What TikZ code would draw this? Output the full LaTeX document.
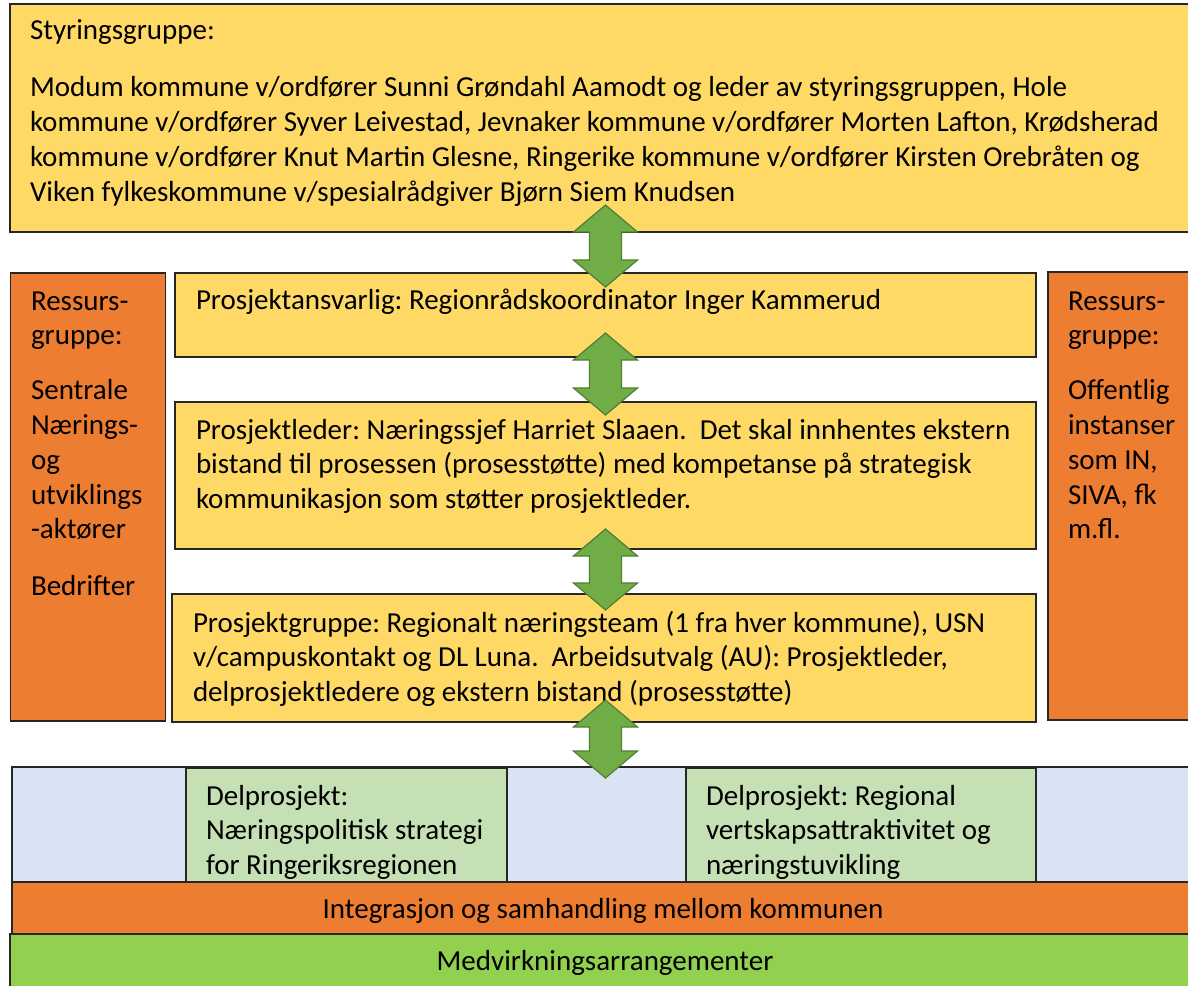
\documentclass[tikz,border=0pt]{standalone}
\usepackage{fontspec}
\setmainfont{Carlito}
\usetikzlibrary{calc}
\definecolor{cyellow}{HTML}{FFD966}
\definecolor{corange}{HTML}{ED7D31}
\definecolor{cblue}{HTML}{DAE3F3}
\definecolor{clgreen}{HTML}{C5E0B4}
\definecolor{cgreen}{HTML}{92D050}
\definecolor{carrow}{HTML}{70AD47}
\definecolor{carrowb}{HTML}{507E32}
\definecolor{cline}{HTML}{262626}
\frenchspacing
\tikzset{
  box/.style={draw=cline, line width=1.4pt, rectangle, inner sep=0pt, outer sep=0pt, anchor=north west},
  txt/.style={anchor=north west, inner sep=0pt, outer sep=0pt, align=left, font=\fontsize{29}{34.8}\selectfont\frenchspacing},
  ctxt/.style={anchor=base, inner sep=0pt, outer sep=0pt, font=\fontsize{29}{34.8}\selectfont},
  garrowstyle/.style={fill=carrow, draw=carrowb, line width=1.2pt, line join=miter},
}
\newcommand\garrow[2]{%
  \draw[garrowstyle] (#1) -- ($(#1)+(32,27)$) -- ($(#1)+(16,27)$) -- ($(#2)+(16,-27)$) -- ($(#2)+(32,-27)$) -- (#2)
    -- ($(#2)+(-32,-27)$) -- ($(#2)+(-16,-27)$) -- ($(#1)+(-16,27)$) -- ($(#1)+(-32,27)$) -- cycle;}
\newcommand\st{\rule{0pt}{24.36pt}}
\begin{document}
\begin{tikzpicture}[x=1pt,y=-1pt]
\useasboundingbox (0,0) rectangle (1188,985);
\clip (0,0) rectangle (1188,985);
\fill[white] (0,0) rectangle (1188,985);

% boxes
\node[box, fill=cyellow, minimum width=1182pt, minimum height=228pt] (styr) at (10,4) {};
\node[box, fill=corange, minimum width=155pt, minimum height=448pt] (resL) at (10.5,273) {};
\node[box, fill=corange, minimum width=160pt, minimum height=448pt] (resR) at (1048,272) {};
\node[box, fill=cyellow, minimum width=861pt, minimum height=84pt] (pa) at (175,273) {};
\node[box, fill=cyellow, minimum width=861pt, minimum height=147pt] (pl) at (175,402) {};
\node[box, fill=cyellow, minimum width=864pt, minimum height=128pt] (pg) at (172,594) {};
\node[box, fill=cblue, minimum width=1190pt, minimum height=115pt] (band) at (12,767) {};
\node[box, fill=clgreen, minimum width=321pt, minimum height=114pt] (dp1) at (186,768) {};
\node[box, fill=clgreen, minimum width=350pt, minimum height=114pt] (dp2) at (686,768) {};
\node[box, fill=corange, minimum width=1190pt, minimum height=52pt] (integ) at (12,882) {};
\node[box, fill=cgreen, minimum width=1190pt, minimum height=60pt] (medv) at (10,934) {};

% texts
\node[txt] (tstyr) at (30,{39.3-24.36}) {\st Styringsgruppe:\\[22.6pt]
\st Modum kommune v/ordfører Sunni Grøndahl Aamodt og leder av styringsgruppen, Hole\\
kommune v/ordfører Syver Leivestad, Jevnaker kommune v/ordfører Morten Lafton, Krødsherad\\
kommune v/ordfører Knut Martin Glesne, Ringerike kommune v/ordfører Kirsten Orebråten og\\
Viken fylkeskommune v/spesialrådgiver Bjørn Siem Knudsen};
\node[txt] (tresL) at (31,{310-24.36}) {\st Ressurs-\\gruppe:\\[20pt]
\st Sentrale\\Nærings-\\og\\utviklings\\-aktører\\[22pt]\st Bedrifter};
\node[txt] (tresR) at (1068,{310-24.36}) {\st Ressurs-\\gruppe:\\[20pt]
\st Offentlig\\instanser\\som IN,\\SIVA, fk\\m.fl.};
\node[txt] (tpa) at (196,{309-24.36}) {\st Prosjektansvarlig: Regionrådskoordinator Inger Kammerud};
\node[txt] (tpl) at (196,{439-24.36}) {\st Prosjektleder: Næringssjef Harriet Slaaen.\ \ Det skal innhentes ekstern\\
bistand til prosessen (prosesstøtte) med kompetanse på strategisk\\
kommunikasjon som støtter prosjektleder.};
\node[txt] (tpg) at (193,{632-24.36}) {\st Prosjektgruppe: Regionalt næringsteam (1 fra hver kommune), USN\\
v/campuskontakt og DL Luna.\ \ Arbeidsutvalg (AU): Prosjektleder,\\
delprosjektledere og ekstern bistand (prosesstøtte)};
\node[txt] (tdp1) at (206,{805-24.36}) {\st Delprosjekt:\\Næringspolitisk strategi\\for Ringeriksregionen};
\node[txt] (tdp2) at (706,{805-24.36}) {\st Delprosjekt: Regional\\vertskapsattraktivitet og\\næringstuvikling};
\node[ctxt] (tinteg) at (603,918) {Integrasjon og samhandling mellom kommunen};
\node[ctxt] (tmedv) at (605,970) {Medvirkningsarrangementer};

% arrows
\coordinate (a1t) at ($(pa.north |- styr.south)+(0,-27)$);
\coordinate (a1b) at ($(pa.north)+(0,14)$);
\coordinate (a2t) at ($(pa.south)+(0,-24)$);
\coordinate (a2b) at ($(pl.north)+(0,13)$);
\coordinate (a3t) at ($(pl.south)+(0,-20)$);
\coordinate (a3b) at ($(pa.north |- pg.north)+(0,16)$);
\coordinate (a4t) at ($(pa.north |- pg.south)+(0,-22)$);
\coordinate (a4b) at ($(pa.north |- band.north)+(0,11)$);
\garrow{a1t}{a1b}
\garrow{a2t}{a2b}
\garrow{a3t}{a3b}
\garrow{a4t}{a4b}
\end{tikzpicture}
\end{document}
